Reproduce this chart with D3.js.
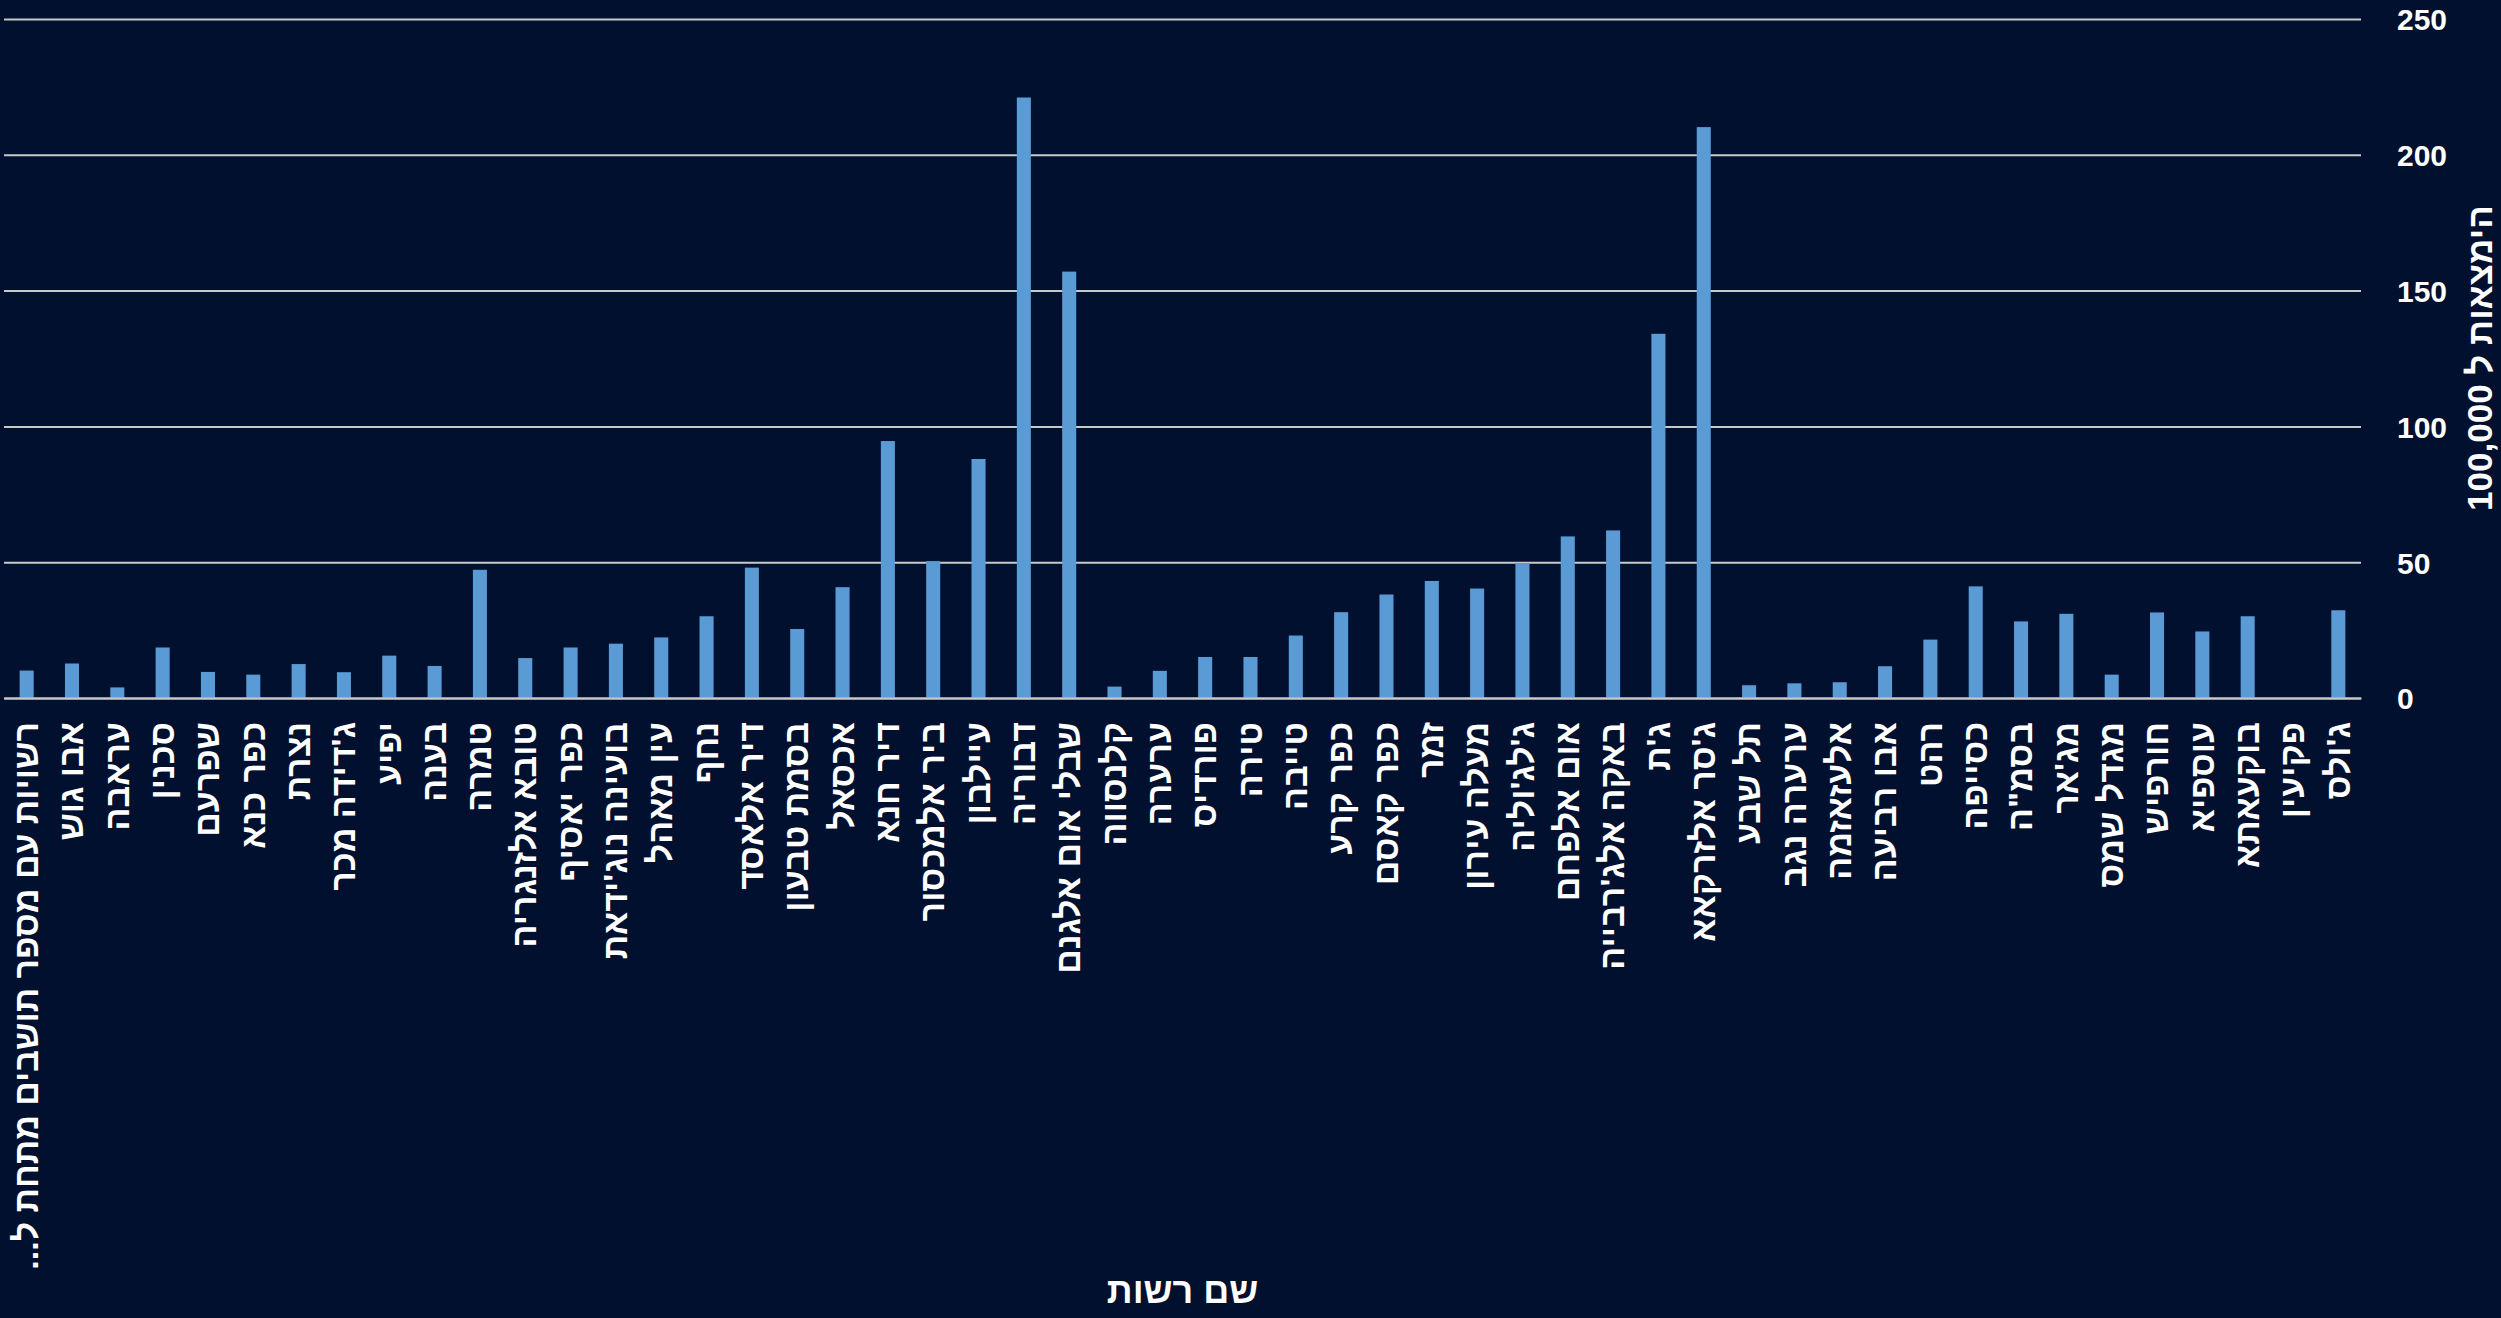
<!DOCTYPE html>
<html>
<head>
<meta charset="utf-8">
<script src="https://cdn.jsdelivr.net/npm/d3@7"></script>
<style>
  body { margin: 0; background: #00102e; }
  svg { display: block; }
  .x-axis text { font-family: 'Liberation Sans', Arial, sans-serif; font-size: 34px; font-weight: bold; fill: #fff; }
  .y-axis text { font-family: 'Liberation Sans', Arial, sans-serif; font-size: 30px; font-weight: bold; fill: #fff; }
  .axis-label { font-family: 'Liberation Sans', Arial, sans-serif; font-weight: bold; fill: #fff; }
</style>
</head>
<body>
<div id="chart"></div>
<script>
'use strict';

// שמות הרשויות, לפי סדר הופעתן בגרף (משמאל לימין)
const towns = [
  'רשויות עם מספר תושבים מתחת ל...', 'אבו גוש', 'עראבה', 'סכנין', 'שפרעם', 'כפר כנא',
  'נצרת', "ג'דידה מכר", 'יפיע', 'בענה', 'טמרה', 'טובא אלזנגריה', 'כפר יאסיף',
  "בועינה נוג'ידאת", 'עין מאהל', 'נחף', 'דיר אלאסד', 'בסמת טבעון', 'אכסאל', 'דיר חנא',
  'ביר אלמכסור', 'עיילבון', 'דבוריה', 'שבלי אום אלגנם', 'קלנסווה', 'ערערה', 'פורדיס',
  'טירה', 'טייבה', 'כפר קרע', 'כפר קאסם', 'זמר', 'מעלה עירון', "ג'לג'וליה", 'אום אלפחם',
  "באקה אלג'רבייה", "ג'ת", "ג'סר אלזרקאא", 'תל שבע', 'ערערה נגב', 'אלעזאזמה', 'אבו רביעה',
  'רהט', 'כסייפה', 'בסמ"ה', "מג'אר", 'מגדל שמס', 'חורפיש', 'עוספיא', 'בוקעאתא', 'פקיעין',
  "ג'ולס"
];

// הימצאות ל-100,000 תושבים
const rates = [
  10.1, 12.7, 3.9, 18.6, 9.6, 8.6, 12.5, 9.5, 15.6, 11.8,
  47.2, 14.7, 18.6, 20.0, 22.3, 30.1, 48.0, 25.4, 40.8, 94.6,
  50.4, 88.0, 221.1, 157.0, 4.2, 10.0, 15.1, 15.1, 23.0, 31.6,
  38.1, 43.1, 40.3, 49.7, 59.5, 61.7, 134.1, 210.2, 4.7, 5.4,
  5.8, 11.7, 21.5, 41.1, 28.2, 31.0, 8.6, 31.5, 24.5, 30.1,
  0, 32.3
];

const yTicks = [0, 50, 100, 150, 200, 250];

const width = 2501;
const height = 1318;
const plotLeft = 4, plotRight = 2361, plotTop = 19, plotBottom = 698;

const data = towns.map((t, i) => ({ town: t, value: rates[i] }));

let xScale = d3.scaleBand()
    .domain(towns)
    .range([plotLeft, plotRight])
    .paddingInner(0.69)
    .paddingOuter(0.345);

let yScale = d3.scaleLinear()
    .domain([0, 250])
    .range([plotBottom, plotTop]);

let svg = d3.select('#chart').append('svg')
    .attr('width', width)
    .attr('height', height);

svg.append('rect')
    .attr('width', width)
    .attr('height', height)
    .attr('fill', '#00102e');

// קווי רשת + תוויות ציר Y בצד ימין
let yAxis = d3.axisRight(yScale)
    .tickValues(yTicks)
    .tickSize(-(plotRight - plotLeft))
    .tickPadding(36);

let yg = svg.append('g')
    .attr('class', 'y-axis')
    .attr('transform', `translate(${plotRight}, 0)`)
    .call(yAxis);
yg.select('.domain').remove();
yg.selectAll('line').attr('stroke', '#c8c8c8').attr('stroke-width', 2);
yg.selectAll('text').attr('dy', '0.36em');

svg.append('g')
    .selectAll('rect')
    .data(data)
    .enter()
    .append('rect')
    .attr('x', d => xScale(d.town))
    .attr('y', d => yScale(d.value))
    .attr('width', xScale.bandwidth())
    .attr('height', d => plotBottom - yScale(d.value))
    .attr('fill', '#5b9bd5');

let xAxis = d3.axisBottom(xScale)
    .tickSize(0)
    .tickFormat(d => d + '\u200F');

let xg = svg.append('g')
    .attr('class', 'x-axis')
    .attr('transform', `translate(0, ${plotBottom})`)
    .call(xAxis);
xg.select('.domain').attr('stroke', '#c8c8c8').attr('stroke-width', 2);
xg.selectAll('text')
    .attr('transform', 'rotate(-90)')
    .attr('x', -24)
    .attr('y', 0)
    .attr('dy', '0.33em')
    .attr('text-anchor', 'end');

svg.append('text')
    .text('שם רשות')
    .attr('class', 'axis-label')
    .attr('font-size', 36)
    .attr('text-anchor', 'middle')
    .attr('transform', `translate(${(plotLeft + plotRight) / 2}, 1303)`);

svg.append('text')
    .text('הימצאות ל 100,000')
    .attr('class', 'axis-label')
    .attr('font-size', 35)
    .attr('direction', 'rtl')
    .attr('text-anchor', 'middle')
    .attr('transform', `translate(2480, 358) rotate(-90)`)
    .attr('dy', '0.35em');
</script>
</body>
</html>
